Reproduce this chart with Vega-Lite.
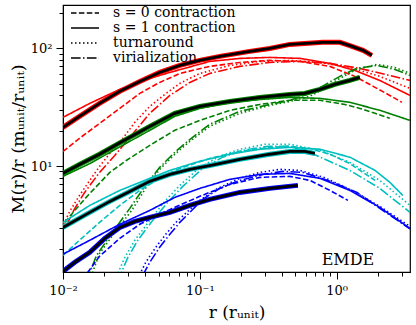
{
"$schema": "https://vega.github.io/schema/vega-lite/v6.json",
"width": 347, "height": 267,
"autosize": {"type": "none"},
"padding": {"left": 63, "top": 5, "right": 6, "bottom": 53},
"config": {"view": {"stroke": "black", "strokeWidth": 1.2}, "font": "DejaVu Serif"},
"datasets": {
"curves": [
{"g":"red","k":"sim","r":0.01,"m":21.3},{"g":"red","k":"sim","r":0.0132,"m":26.4},{"g":"red","k":"sim","r":0.0185,"m":34.0},{"g":"red","k":"sim","r":0.026,"m":43.0},{"g":"red","k":"sim","r":0.0364,"m":52.2},{"g":"red","k":"sim","r":0.0509,"m":62.2},{"g":"red","k":"sim","r":0.0714,"m":71.3},{"g":"red","k":"sim","r":0.1,"m":78.7},{"g":"red","k":"sim","r":0.14,"m":85.1},{"g":"red","k":"sim","r":0.232,"m":93.8},{"g":"red","k":"sim","r":0.325,"m":99.4},{"g":"red","k":"sim","r":0.455,"m":107.5},{"g":"red","k":"sim","r":0.794,"m":112},{"g":"red","k":"sim","r":1.057,"m":112},{"g":"red","k":"sim","r":1.25,"m":105},{"g":"red","k":"sim","r":1.56,"m":95.7},{"g":"red","k":"sim","r":1.81,"m":86.8},
{"g":"red","k":"s = 1 contraction","r":0.01,"m":25.9},{"g":"red","k":"s = 1 contraction","r":0.0157,"m":34.0},{"g":"red","k":"s = 1 contraction","r":0.026,"m":44.7},{"g":"red","k":"s = 1 contraction","r":0.0431,"m":55.4},{"g":"red","k":"s = 1 contraction","r":0.0604,"m":62.2},{"g":"red","k":"s = 1 contraction","r":0.118,"m":77.1},{"g":"red","k":"s = 1 contraction","r":0.196,"m":81.8},{"g":"red","k":"s = 1 contraction","r":0.325,"m":83.4},{"g":"red","k":"s = 1 contraction","r":0.54,"m":81.8},{"g":"red","k":"s = 1 contraction","r":0.893,"m":74.2},{"g":"red","k":"s = 1 contraction","r":1.36,"m":64.7},{"g":"red","k":"s = 1 contraction","r":2.07,"m":53.2},{"g":"red","k":"s = 1 contraction","r":3.44,"m":39.7},
{"g":"red","k":"s = 0 contraction","r":0.01,"m":13.3},{"g":"red","k":"s = 0 contraction","r":0.0132,"m":17.2},{"g":"red","k":"s = 0 contraction","r":0.0185,"m":23.0},{"g":"red","k":"s = 0 contraction","r":0.026,"m":30.8},{"g":"red","k":"s = 0 contraction","r":0.0364,"m":41.3},{"g":"red","k":"s = 0 contraction","r":0.0509,"m":51.2},{"g":"red","k":"s = 0 contraction","r":0.0714,"m":61.0},{"g":"red","k":"s = 0 contraction","r":0.118,"m":70.0},{"g":"red","k":"s = 0 contraction","r":0.196,"m":75.6},{"g":"red","k":"s = 0 contraction","r":0.325,"m":78.7},{"g":"red","k":"s = 0 contraction","r":0.54,"m":77.1},{"g":"red","k":"s = 0 contraction","r":0.893,"m":70.0},{"g":"red","k":"s = 0 contraction","r":1.36,"m":57.6},{"g":"red","k":"s = 0 contraction","r":1.91,"m":46.5},{"g":"red","k":"s = 0 contraction","r":2.45,"m":39.7},{"g":"red","k":"s = 0 contraction","r":3.0,"m":34.7},
{"g":"red","k":"turnaround","r":0.0101,"m":3.21},{"g":"red","k":"turnaround","r":0.0112,"m":4.13},{"g":"red","k":"turnaround","r":0.0132,"m":5.64},{"g":"red","k":"turnaround","r":0.0157,"m":7.56},{"g":"red","k":"turnaround","r":0.0185,"m":9.94},{"g":"red","k":"turnaround","r":0.022,"m":12.8},{"g":"red","k":"turnaround","r":0.0264,"m":16.2},{"g":"red","k":"turnaround","r":0.0335,"m":23.5},{"g":"red","k":"turnaround","r":0.0431,"m":32.1},{"g":"red","k":"turnaround","r":0.0554,"m":40.5},{"g":"red","k":"turnaround","r":0.0714,"m":50.2},{"g":"red","k":"turnaround","r":0.1,"m":61.0},{"g":"red","k":"turnaround","r":0.166,"m":71.3},{"g":"red","k":"turnaround","r":0.275,"m":77.1},{"g":"red","k":"turnaround","r":0.455,"m":78.7},{"g":"red","k":"turnaround","r":0.755,"m":75.6},{"g":"red","k":"turnaround","r":1.25,"m":68.6},{"g":"red","k":"turnaround","r":2.07,"m":57.6},{"g":"red","k":"turnaround","r":3.44,"m":45.5},
{"g":"red","k":"virialization","r":0.0105,"m":3.08},{"g":"red","k":"virialization","r":0.0122,"m":4.38},{"g":"red","k":"virialization","r":0.0144,"m":5.98},{"g":"red","k":"virialization","r":0.0185,"m":8.84},{"g":"red","k":"virialization","r":0.0239,"m":12.3},{"g":"red","k":"virialization","r":0.0308,"m":17.5},{"g":"red","k":"virialization","r":0.0431,"m":28.0},{"g":"red","k":"virialization","r":0.0604,"m":39.7},{"g":"red","k":"virialization","r":0.0845,"m":51.2},{"g":"red","k":"virialization","r":0.118,"m":61.0},{"g":"red","k":"virialization","r":0.196,"m":70.0},{"g":"red","k":"virialization","r":0.325,"m":75.6},{"g":"red","k":"virialization","r":0.54,"m":77.1},{"g":"red","k":"virialization","r":0.893,"m":74.2},{"g":"red","k":"virialization","r":1.48,"m":67.3},{"g":"red","k":"virialization","r":2.26,"m":59.9},{"g":"red","k":"virialization","r":3.44,"m":53.2},

{"g":"green","k":"sim","r":0.01,"m":8.67},{"g":"green","k":"sim","r":0.0132,"m":10.3},{"g":"green","k":"sim","r":0.0185,"m":12.6},{"g":"green","k":"sim","r":0.0264,"m":15.9},{"g":"green","k":"sim","r":0.0431,"m":21.7},{"g":"green","k":"sim","r":0.0657,"m":28.0},{"g":"green","k":"sim","r":0.1,"m":32.1},{"g":"green","k":"sim","r":0.166,"m":35.3},{"g":"green","k":"sim","r":0.275,"m":38.2},{"g":"green","k":"sim","r":0.455,"m":40.5},{"g":"green","k":"sim","r":0.586,"m":41.3},{"g":"green","k":"sim","r":0.755,"m":44.7},{"g":"green","k":"sim","r":0.97,"m":49.3},{"g":"green","k":"sim","r":1.25,"m":53.2},{"g":"green","k":"sim","r":1.48,"m":56.5},
{"g":"green","k":"s = 1 contraction","r":0.01,"m":8.18},{"g":"green","k":"s = 1 contraction","r":0.0157,"m":10.5},{"g":"green","k":"s = 1 contraction","r":0.0264,"m":14.7},{"g":"green","k":"s = 1 contraction","r":0.0431,"m":20.1},{"g":"green","k":"s = 1 contraction","r":0.0657,"m":26.4},{"g":"green","k":"s = 1 contraction","r":0.1,"m":30.8},{"g":"green","k":"s = 1 contraction","r":0.166,"m":34.7},{"g":"green","k":"s = 1 contraction","r":0.275,"m":36.7},{"g":"green","k":"s = 1 contraction","r":0.455,"m":38.2},{"g":"green","k":"s = 1 contraction","r":0.755,"m":37.5},{"g":"green","k":"s = 1 contraction","r":1.25,"m":34.7},{"g":"green","k":"s = 1 contraction","r":2.07,"m":29.7},{"g":"green","k":"s = 1 contraction","r":3.44,"m":24.4},
{"g":"green","k":"s = 0 contraction","r":0.0103,"m":3.33},{"g":"green","k":"s = 0 contraction","r":0.0122,"m":4.21},{"g":"green","k":"s = 0 contraction","r":0.0152,"m":5.64},{"g":"green","k":"s = 0 contraction","r":0.022,"m":8.84},{"g":"green","k":"s = 0 contraction","r":0.0292,"m":11.2},{"g":"green","k":"s = 0 contraction","r":0.0431,"m":15.0},{"g":"green","k":"s = 0 contraction","r":0.0657,"m":20.1},{"g":"green","k":"s = 0 contraction","r":0.1,"m":24.4},{"g":"green","k":"s = 0 contraction","r":0.166,"m":29.7},{"g":"green","k":"s = 0 contraction","r":0.275,"m":33.3},{"g":"green","k":"s = 0 contraction","r":0.455,"m":36.1},{"g":"green","k":"s = 0 contraction","r":0.755,"m":36.1},{"g":"green","k":"s = 0 contraction","r":1.149,"m":33.3},{"g":"green","k":"s = 0 contraction","r":1.48,"m":30.8},{"g":"green","k":"s = 0 contraction","r":1.91,"m":28.0},{"g":"green","k":"s = 0 contraction","r":2.45,"m":25.4},
{"g":"green","k":"turnaround","r":0.0157,"m":1.075},{"g":"green","k":"turnaround","r":0.0185,"m":1.82},{"g":"green","k":"turnaround","r":0.0239,"m":2.74},{"g":"green","k":"turnaround","r":0.0318,"m":4.21},{"g":"green","k":"turnaround","r":0.041,"m":6.73},{"g":"green","k":"turnaround","r":0.0509,"m":9.38},{"g":"green","k":"turnaround","r":0.0657,"m":12.6},{"g":"green","k":"turnaround","r":0.0845,"m":16.2},{"g":"green","k":"turnaround","r":0.118,"m":21.7},{"g":"green","k":"turnaround","r":0.196,"m":28.0},{"g":"green","k":"turnaround","r":0.325,"m":32.7},{"g":"green","k":"turnaround","r":0.455,"m":35.3},{"g":"green","k":"turnaround","r":0.638,"m":39.0},{"g":"green","k":"turnaround","r":0.807,"m":45.5},{"g":"green","k":"turnaround","r":1.057,"m":55.4},{"g":"green","k":"turnaround","r":1.4,"m":66.0},{"g":"green","k":"turnaround","r":1.97,"m":72.8},{"g":"green","k":"turnaround","r":2.67,"m":68.6},{"g":"green","k":"turnaround","r":3.44,"m":61.0},
{"g":"green","k":"virialization","r":0.0149,"m":1.075},{"g":"green","k":"virialization","r":0.0176,"m":1.75},{"g":"green","k":"virialization","r":0.0227,"m":2.69},{"g":"green","k":"virialization","r":0.0308,"m":4.38},{"g":"green","k":"virialization","r":0.0396,"m":6.73},{"g":"green","k":"virialization","r":0.0509,"m":9.75},{"g":"green","k":"virialization","r":0.0657,"m":13.1},{"g":"green","k":"virialization","r":0.0845,"m":16.8},{"g":"green","k":"virialization","r":0.118,"m":22.6},{"g":"green","k":"virialization","r":0.196,"m":29.1},{"g":"green","k":"virialization","r":0.325,"m":33.3},{"g":"green","k":"virialization","r":0.455,"m":36.1},{"g":"green","k":"virialization","r":0.638,"m":41.3},{"g":"green","k":"virialization","r":0.807,"m":48.3},{"g":"green","k":"virialization","r":1.057,"m":57.6},{"g":"green","k":"virialization","r":1.4,"m":67.3},{"g":"green","k":"virialization","r":1.97,"m":71.3},{"g":"green","k":"virialization","r":2.67,"m":66.0},{"g":"green","k":"virialization","r":3.44,"m":58.7},

{"g":"cyan","k":"sim","r":0.01,"m":3.02},{"g":"cyan","k":"sim","r":0.0157,"m":4.05},{"g":"cyan","k":"sim","r":0.022,"m":5.02},{"g":"cyan","k":"sim","r":0.0318,"m":6.22},{"g":"cyan","k":"sim","r":0.0431,"m":7.42},{"g":"cyan","k":"sim","r":0.0604,"m":8.5},{"g":"cyan","k":"sim","r":0.0845,"m":9.38},{"g":"cyan","k":"sim","r":0.118,"m":10.1},{"g":"cyan","k":"sim","r":0.196,"m":11.4},{"g":"cyan","k":"sim","r":0.325,"m":12.6},{"g":"cyan","k":"sim","r":0.455,"m":13.3},{"g":"cyan","k":"sim","r":0.586,"m":13.3},{"g":"cyan","k":"sim","r":0.694,"m":12.8},
{"g":"cyan","k":"s = 1 contraction","r":0.01,"m":3.33},{"g":"cyan","k":"s = 1 contraction","r":0.0157,"m":4.64},{"g":"cyan","k":"s = 1 contraction","r":0.026,"m":6.22},{"g":"cyan","k":"s = 1 contraction","r":0.0431,"m":7.87},{"g":"cyan","k":"s = 1 contraction","r":0.0604,"m":9.19},{"g":"cyan","k":"s = 1 contraction","r":0.1,"m":11.0},{"g":"cyan","k":"s = 1 contraction","r":0.166,"m":12.6},{"g":"cyan","k":"s = 1 contraction","r":0.275,"m":13.9},{"g":"cyan","k":"s = 1 contraction","r":0.455,"m":14.4},{"g":"cyan","k":"s = 1 contraction","r":0.755,"m":13.9},{"g":"cyan","k":"s = 1 contraction","r":1.25,"m":11.9},{"g":"cyan","k":"s = 1 contraction","r":1.91,"m":9.19},{"g":"cyan","k":"s = 1 contraction","r":2.45,"m":7.28},{"g":"cyan","k":"s = 1 contraction","r":3.05,"m":5.64},
{"g":"cyan","k":"s = 0 contraction","r":0.01,"m":1.75},{"g":"cyan","k":"s = 0 contraction","r":0.0132,"m":2.35},{"g":"cyan","k":"s = 0 contraction","r":0.0185,"m":3.33},{"g":"cyan","k":"s = 0 contraction","r":0.026,"m":4.64},{"g":"cyan","k":"s = 0 contraction","r":0.0364,"m":6.22},{"g":"cyan","k":"s = 0 contraction","r":0.0509,"m":7.87},{"g":"cyan","k":"s = 0 contraction","r":0.0714,"m":9.56},{"g":"cyan","k":"s = 0 contraction","r":0.118,"m":11.6},{"g":"cyan","k":"s = 0 contraction","r":0.196,"m":13.3},{"g":"cyan","k":"s = 0 contraction","r":0.325,"m":14.4},{"g":"cyan","k":"s = 0 contraction","r":0.455,"m":14.7},{"g":"cyan","k":"s = 0 contraction","r":0.638,"m":14.1},{"g":"cyan","k":"s = 0 contraction","r":0.893,"m":12.6},{"g":"cyan","k":"s = 0 contraction","r":1.25,"m":10.5},{"g":"cyan","k":"s = 0 contraction","r":1.91,"m":7.56},
{"g":"cyan","k":"turnaround","r":0.0239,"m":1.075},{"g":"cyan","k":"turnaround","r":0.0283,"m":1.68},{"g":"cyan","k":"turnaround","r":0.0335,"m":2.35},{"g":"cyan","k":"turnaround","r":0.0431,"m":3.47},{"g":"cyan","k":"turnaround","r":0.0554,"m":5.02},{"g":"cyan","k":"turnaround","r":0.0714,"m":6.86},{"g":"cyan","k":"turnaround","r":0.1,"m":9.75},{"g":"cyan","k":"turnaround","r":0.14,"m":12.1},{"g":"cyan","k":"turnaround","r":0.196,"m":13.9},{"g":"cyan","k":"turnaround","r":0.299,"m":15.3},{"g":"cyan","k":"turnaround","r":0.455,"m":15.3},{"g":"cyan","k":"turnaround","r":0.755,"m":13.6},{"g":"cyan","k":"turnaround","r":1.25,"m":10.75},{"g":"cyan","k":"turnaround","r":2.07,"m":7.56},{"g":"cyan","k":"turnaround","r":3.44,"m":4.64},
{"g":"cyan","k":"virialization","r":0.0252,"m":1.075},{"g":"cyan","k":"virialization","r":0.0298,"m":1.68},{"g":"cyan","k":"virialization","r":0.0352,"m":2.35},{"g":"cyan","k":"virialization","r":0.0453,"m":3.47},{"g":"cyan","k":"virialization","r":0.0583,"m":4.93},{"g":"cyan","k":"virialization","r":0.0751,"m":6.73},{"g":"cyan","k":"virialization","r":0.105,"m":9.56},{"g":"cyan","k":"virialization","r":0.147,"m":11.9},{"g":"cyan","k":"virialization","r":0.206,"m":13.6},{"g":"cyan","k":"virialization","r":0.315,"m":14.7},{"g":"cyan","k":"virialization","r":0.455,"m":14.7},{"g":"cyan","k":"virialization","r":0.714,"m":12.3},{"g":"cyan","k":"virialization","r":1.25,"m":9.19},{"g":"cyan","k":"virialization","r":2.07,"m":6.47},{"g":"cyan","k":"virialization","r":3.44,"m":4.05},

{"g":"blue","k":"sim","r":0.01,"m":1.28},{"g":"blue","k":"sim","r":0.0122,"m":1.53},{"g":"blue","k":"sim","r":0.0157,"m":1.86},{"g":"blue","k":"sim","r":0.0202,"m":2.44},{"g":"blue","k":"sim","r":0.026,"m":3.02},{"g":"blue","k":"sim","r":0.0335,"m":3.4},{"g":"blue","k":"sim","r":0.0431,"m":3.67},{"g":"blue","k":"sim","r":0.0604,"m":4.05},{"g":"blue","k":"sim","r":0.0845,"m":4.64},{"g":"blue","k":"sim","r":0.118,"m":5.22},{"g":"blue","k":"sim","r":0.196,"m":5.98},{"g":"blue","k":"sim","r":0.325,"m":6.47},{"g":"blue","k":"sim","r":0.521,"m":6.86},
{"g":"blue","k":"s = 1 contraction","r":0.01,"m":1.79},{"g":"blue","k":"s = 1 contraction","r":0.0157,"m":2.35},{"g":"blue","k":"s = 1 contraction","r":0.026,"m":3.21},{"g":"blue","k":"s = 1 contraction","r":0.0431,"m":4.21},{"g":"blue","k":"s = 1 contraction","r":0.0657,"m":5.43},{"g":"blue","k":"s = 1 contraction","r":0.1,"m":6.47},{"g":"blue","k":"s = 1 contraction","r":0.166,"m":7.72},{"g":"blue","k":"s = 1 contraction","r":0.275,"m":8.5},{"g":"blue","k":"s = 1 contraction","r":0.455,"m":8.67},{"g":"blue","k":"s = 1 contraction","r":0.755,"m":7.87},{"g":"blue","k":"s = 1 contraction","r":1.25,"m":6.22},{"g":"blue","k":"s = 1 contraction","r":2.07,"m":4.47},{"g":"blue","k":"s = 1 contraction","r":3.44,"m":2.96},
{"g":"blue","k":"s = 0 contraction","r":0.0144,"m":1.075},{"g":"blue","k":"s = 0 contraction","r":0.0152,"m":1.26},{"g":"blue","k":"s = 0 contraction","r":0.0185,"m":1.72},{"g":"blue","k":"s = 0 contraction","r":0.026,"m":2.44},{"g":"blue","k":"s = 0 contraction","r":0.0364,"m":3.21},{"g":"blue","k":"s = 0 contraction","r":0.0509,"m":3.9},{"g":"blue","k":"s = 0 contraction","r":0.0657,"m":4.47},{"g":"blue","k":"s = 0 contraction","r":0.1,"m":5.54},{"g":"blue","k":"s = 0 contraction","r":0.166,"m":7.0},{"g":"blue","k":"s = 0 contraction","r":0.275,"m":8.02},{"g":"blue","k":"s = 0 contraction","r":0.455,"m":8.18},{"g":"blue","k":"s = 0 contraction","r":0.638,"m":7.56},{"g":"blue","k":"s = 0 contraction","r":0.893,"m":6.22},{"g":"blue","k":"s = 0 contraction","r":1.21,"m":5.12},
{"g":"blue","k":"turnaround","r":0.0352,"m":1.12},{"g":"blue","k":"turnaround","r":0.0403,"m":1.53},{"g":"blue","k":"turnaround","r":0.0477,"m":2.05},{"g":"blue","k":"turnaround","r":0.0564,"m":2.64},{"g":"blue","k":"turnaround","r":0.0668,"m":3.33},{"g":"blue","k":"turnaround","r":0.0817,"m":4.13},{"g":"blue","k":"turnaround","r":0.1,"m":5.12},{"g":"blue","k":"turnaround","r":0.135,"m":6.47},{"g":"blue","k":"turnaround","r":0.196,"m":7.87},{"g":"blue","k":"turnaround","r":0.275,"m":8.84},{"g":"blue","k":"turnaround","r":0.385,"m":9.38},{"g":"blue","k":"turnaround","r":0.54,"m":9.19},{"g":"blue","k":"turnaround","r":0.807,"m":8.02},{"g":"blue","k":"turnaround","r":1.25,"m":6.35},{"g":"blue","k":"turnaround","r":2.07,"m":4.55},{"g":"blue","k":"turnaround","r":3.44,"m":3.08},
{"g":"blue","k":"virialization","r":0.0383,"m":1.185},{"g":"blue","k":"virialization","r":0.0431,"m":1.53},{"g":"blue","k":"virialization","r":0.0509,"m":2.05},{"g":"blue","k":"virialization","r":0.0604,"m":2.64},{"g":"blue","k":"virialization","r":0.0714,"m":3.33},{"g":"blue","k":"virialization","r":0.0845,"m":4.05},{"g":"blue","k":"virialization","r":0.105,"m":5.22},{"g":"blue","k":"virialization","r":0.14,"m":6.47},{"g":"blue","k":"virialization","r":0.196,"m":7.56},{"g":"blue","k":"virialization","r":0.289,"m":8.5},{"g":"blue","k":"virialization","r":0.405,"m":9.02},{"g":"blue","k":"virialization","r":0.567,"m":8.84},{"g":"blue","k":"virialization","r":0.864,"m":7.56},{"g":"blue","k":"virialization","r":1.41,"m":5.98},{"g":"blue","k":"virialization","r":2.07,"m":4.38},{"g":"blue","k":"virialization","r":3.44,"m":2.94}
],
"label": [{"r": 1.21, "m": 1.59, "t": "EMDE"}]
},
"encoding": {
"x": {"field": "r", "type": "quantitative", "scale": {"type": "log", "domain": [0.01, 3.44], "nice": false},
 "axis": {"title": "r (rᵤₙᵢₜ)", "grid": false, "values": [0.01,0.02,0.03,0.04,0.05,0.06,0.07,0.08,0.09,0.1,0.2,0.3,0.4,0.5,0.6,0.7,0.8,0.9,1,2,3],
  "labelExpr": "datum.value == 0.01 ? '10⁻²' : datum.value == 0.1 ? '10⁻¹' : datum.value == 1 ? '10⁰' : ''",
  "tickSize": {"condition": {"test": "datum.value == 0.01 || datum.value == 0.1 || datum.value == 1", "value": 7}, "value": 4},
  "tickColor": "black", "domainColor": "black", "labelColor": "black", "titleColor": "black",
  "labelFont": "DejaVu Serif", "labelFontSize": 13, "titleFont": "DejaVu Serif", "titleFontSize": 17, "titleFontWeight": "normal", "labelPadding": 5, "titlePadding": 7, "labelFlush": false}},
"y": {"field": "m", "type": "quantitative", "scale": {"type": "log", "domain": [1.265, 232], "nice": false},
 "axis": {"title": "M(r)/r (mᵤₙᵢₜ/rᵤₙᵢₜ)", "grid": false, "values": [2,3,4,5,6,7,8,9,10,20,30,40,50,60,70,80,90,100,200],
  "labelExpr": "datum.value == 10 ? '10¹' : datum.value == 100 ? '10²' : ''",
  "tickSize": {"condition": {"test": "datum.value == 10 || datum.value == 100", "value": 7}, "value": 4},
  "tickColor": "black", "domainColor": "black", "labelColor": "black", "titleColor": "black",
  "labelFont": "DejaVu Serif", "labelFontSize": 13, "titleFont": "DejaVu Serif", "titleFontSize": 17.5, "titleFontWeight": "normal", "labelPadding": 4, "titlePadding": 3, "labelFlush": false}}
},
"layer": [
{"data": {"name": "curves"}, "transform": [{"filter": "datum.k != 'sim'"}],
 "mark": {"type": "line", "strokeWidth": 1.6, "clip": true},
 "encoding": {
  "color": {"field": "g", "type": "nominal", "scale": {"domain": ["red","green","cyan","blue"], "range": ["#ff0000","#008000","#00bfbf","#0000ff"]}, "legend": null},
  "strokeDash": {"field": "k", "type": "nominal", "scale": {"domain": ["s = 0 contraction","s = 1 contraction","turnaround","virialization"], "range": [[5.5,2.4],[1,0],[1.5,2.5],[9.6,2.4,1.5,2.4]]},
   "legend": {"title": null, "orient": "none", "legendX": 7, "legendY": 1.5, "symbolType": "stroke", "symbolStrokeColor": "black", "symbolStrokeWidth": 1.6, "symbolSize": 784, "clipHeight": 13, "labelFont": "DejaVu Serif", "labelFontSize": 14, "labelColor": "black", "labelOffset": 13, "rowPadding": 0, "padding": 0, "labelLimit": 300}},
  "detail": {"field": "g"}
 }},
{"data": {"name": "curves"}, "transform": [{"filter": "datum.k == 'sim'"}],
 "mark": {"type": "line", "strokeWidth": 5, "clip": true},
 "encoding": {"color": {"field": "g", "type": "nominal", "legend": null}}},
{"data": {"name": "curves"}, "transform": [{"filter": "datum.k == 'sim'"}],
 "mark": {"type": "line", "strokeWidth": 2.8, "color": "black", "clip": true},
 "encoding": {"detail": {"field": "g"}}},
{"data": {"name": "label"},
 "mark": {"type": "text", "font": "DejaVu Serif", "fontSize": 16, "color": "black", "align": "center", "baseline": "middle"},
 "encoding": {"text": {"field": "t"}}}
]
}
